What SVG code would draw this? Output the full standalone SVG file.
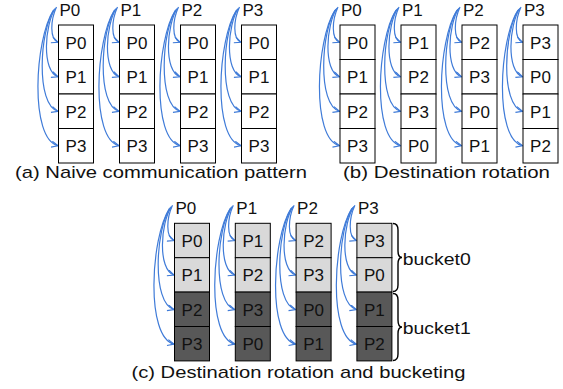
<svg xmlns="http://www.w3.org/2000/svg" xmlns:xlink="http://www.w3.org/1999/xlink" width="563" height="389" viewBox="0 0 563 389">
<style>
text{font-family:"Liberation Sans",Arial,sans-serif;font-size:17px;fill:#111}
.c{text-anchor:middle}
.w{fill:#fff;stroke:#000;stroke-width:1}
.l{fill:#d9d9d9;stroke:#000;stroke-width:1}
.d{fill:#585858;stroke:#000;stroke-width:1}
.a{fill:none;stroke:#3f7bd8;stroke-width:1.2;marker-end:url(#ah)}
.br{fill:none;stroke:#000;stroke-width:1.4}
</style>
<defs>
<marker id="ah" markerUnits="userSpaceOnUse" markerWidth="8" markerHeight="8" refX="7" refY="3.5" orient="auto">
<path d="M0.5,0.5 L7,3.5 L0.5,6.5" fill="none" stroke="#3f7bd8" stroke-width="1.2"/>
</marker>
<g id="fan">
<path class="a" d="M-2,-18 C-8,-5 -9,14 -0.5,17.25"/>
<path class="a" d="M-3,-17 C-14,0 -17,46 -0.5,51.75"/>
<path class="a" d="M-4,-16 C-19,5 -23,80 -0.5,86.25"/>
<path class="a" d="M-5,-15 C-24,15 -29,114 -0.5,120.75"/>
</g>
</defs>

<g id="connectors">
<use xlink:href="#fan" href="#fan" transform="translate(58.5,25)"/>
<use xlink:href="#fan" href="#fan" transform="translate(119.5,25)"/>
<use xlink:href="#fan" href="#fan" transform="translate(180.5,25)"/>
<use xlink:href="#fan" href="#fan" transform="translate(241.5,25)"/>
<use xlink:href="#fan" href="#fan" transform="translate(340,25)"/>
<use xlink:href="#fan" href="#fan" transform="translate(401,25)"/>
<use xlink:href="#fan" href="#fan" transform="translate(462,25)"/>
<use xlink:href="#fan" href="#fan" transform="translate(523,25)"/>
<use xlink:href="#fan" href="#fan" transform="translate(174.5,223.3)"/>
<use xlink:href="#fan" href="#fan" transform="translate(235.3,223.3)"/>
<use xlink:href="#fan" href="#fan" transform="translate(296.1,223.3)"/>
<use xlink:href="#fan" href="#fan" transform="translate(356.9,223.3)"/>
</g>

<!-- (a) -->
<g id="a-p0">
<text x="59.5" y="16.2">P0</text>
<rect class="w" x="58.5" y="25" width="35" height="34.5"/><rect class="w" x="58.5" y="59.5" width="35" height="34.5"/><rect class="w" x="58.5" y="94" width="35" height="34.5"/><rect class="w" x="58.5" y="128.5" width="35" height="34.5"/>
<text class="c" x="76" y="48.5">P0</text><text class="c" x="76" y="83">P1</text><text class="c" x="76" y="117.5">P2</text><text class="c" x="76" y="152">P3</text>
</g>
<g id="a-p1">
<text x="120.5" y="16.2">P1</text>
<rect class="w" x="119.5" y="25" width="35" height="34.5"/><rect class="w" x="119.5" y="59.5" width="35" height="34.5"/><rect class="w" x="119.5" y="94" width="35" height="34.5"/><rect class="w" x="119.5" y="128.5" width="35" height="34.5"/>
<text class="c" x="137" y="48.5">P0</text><text class="c" x="137" y="83">P1</text><text class="c" x="137" y="117.5">P2</text><text class="c" x="137" y="152">P3</text>
</g>
<g id="a-p2">
<text x="181.5" y="16.2">P2</text>
<rect class="w" x="180.5" y="25" width="35" height="34.5"/><rect class="w" x="180.5" y="59.5" width="35" height="34.5"/><rect class="w" x="180.5" y="94" width="35" height="34.5"/><rect class="w" x="180.5" y="128.5" width="35" height="34.5"/>
<text class="c" x="198" y="48.5">P0</text><text class="c" x="198" y="83">P1</text><text class="c" x="198" y="117.5">P2</text><text class="c" x="198" y="152">P3</text>
</g>
<g id="a-p3">
<text x="242.5" y="16.2">P3</text>
<rect class="w" x="241.5" y="25" width="35" height="34.5"/><rect class="w" x="241.5" y="59.5" width="35" height="34.5"/><rect class="w" x="241.5" y="94" width="35" height="34.5"/><rect class="w" x="241.5" y="128.5" width="35" height="34.5"/>
<text class="c" x="259" y="48.5">P0</text><text class="c" x="259" y="83">P1</text><text class="c" x="259" y="117.5">P2</text><text class="c" x="259" y="152">P3</text>
</g>
<text id="cap-a" x="15" y="178" textLength="292" lengthAdjust="spacingAndGlyphs">(a) Naive communication pattern</text>

<!-- (b) -->
<g id="b-p0">
<text x="341" y="16.2">P0</text>
<rect class="w" x="340" y="25" width="35" height="34.5"/><rect class="w" x="340" y="59.5" width="35" height="34.5"/><rect class="w" x="340" y="94" width="35" height="34.5"/><rect class="w" x="340" y="128.5" width="35" height="34.5"/>
<text class="c" x="357.5" y="48.5">P0</text><text class="c" x="357.5" y="83">P1</text><text class="c" x="357.5" y="117.5">P2</text><text class="c" x="357.5" y="152">P3</text>
</g>
<g id="b-p1">
<text x="402" y="16.2">P1</text>
<rect class="w" x="401" y="25" width="35" height="34.5"/><rect class="w" x="401" y="59.5" width="35" height="34.5"/><rect class="w" x="401" y="94" width="35" height="34.5"/><rect class="w" x="401" y="128.5" width="35" height="34.5"/>
<text class="c" x="418.5" y="48.5">P1</text><text class="c" x="418.5" y="83">P2</text><text class="c" x="418.5" y="117.5">P3</text><text class="c" x="418.5" y="152">P0</text>
</g>
<g id="b-p2">
<text x="463" y="16.2">P2</text>
<rect class="w" x="462" y="25" width="35" height="34.5"/><rect class="w" x="462" y="59.5" width="35" height="34.5"/><rect class="w" x="462" y="94" width="35" height="34.5"/><rect class="w" x="462" y="128.5" width="35" height="34.5"/>
<text class="c" x="479.5" y="48.5">P2</text><text class="c" x="479.5" y="83">P3</text><text class="c" x="479.5" y="117.5">P0</text><text class="c" x="479.5" y="152">P1</text>
</g>
<g id="b-p3">
<text x="524" y="16.2">P3</text>
<rect class="w" x="523" y="25" width="35" height="34.5"/><rect class="w" x="523" y="59.5" width="35" height="34.5"/><rect class="w" x="523" y="94" width="35" height="34.5"/><rect class="w" x="523" y="128.5" width="35" height="34.5"/>
<text class="c" x="540.5" y="48.5">P3</text><text class="c" x="540.5" y="83">P0</text><text class="c" x="540.5" y="117.5">P1</text><text class="c" x="540.5" y="152">P2</text>
</g>
<text id="cap-b" x="343" y="178" textLength="207" lengthAdjust="spacingAndGlyphs">(b) Destination rotation</text>

<!-- (c) -->
<g id="c-p0">
<text x="175.5" y="214.3">P0</text>
<rect class="l" x="174.5" y="223.3" width="35" height="34.4"/><rect class="l" x="174.5" y="257.7" width="35" height="34.4"/><rect class="d" x="174.5" y="292.1" width="35" height="34.4"/><rect class="d" x="174.5" y="326.5" width="35" height="34.4"/>
<text class="c" x="192" y="246.8">P0</text><text class="c" x="192" y="281.2">P1</text><text class="c" x="192" y="315.6">P2</text><text class="c" x="192" y="350">P3</text>
</g>
<g id="c-p1">
<text x="236.3" y="214.3">P1</text>
<rect class="l" x="235.3" y="223.3" width="35" height="34.4"/><rect class="l" x="235.3" y="257.7" width="35" height="34.4"/><rect class="d" x="235.3" y="292.1" width="35" height="34.4"/><rect class="d" x="235.3" y="326.5" width="35" height="34.4"/>
<text class="c" x="252.8" y="246.8">P1</text><text class="c" x="252.8" y="281.2">P2</text><text class="c" x="252.8" y="315.6">P3</text><text class="c" x="252.8" y="350">P0</text>
</g>
<g id="c-p2">
<text x="297.1" y="214.3">P2</text>
<rect class="l" x="296.1" y="223.3" width="35" height="34.4"/><rect class="l" x="296.1" y="257.7" width="35" height="34.4"/><rect class="d" x="296.1" y="292.1" width="35" height="34.4"/><rect class="d" x="296.1" y="326.5" width="35" height="34.4"/>
<text class="c" x="313.6" y="246.8">P2</text><text class="c" x="313.6" y="281.2">P3</text><text class="c" x="313.6" y="315.6">P0</text><text class="c" x="313.6" y="350">P1</text>
</g>
<g id="c-p3">
<text x="357.9" y="214.3">P3</text>
<rect class="l" x="356.9" y="223.3" width="35" height="34.4"/><rect class="l" x="356.9" y="257.7" width="35" height="34.4"/><rect class="d" x="356.9" y="292.1" width="35" height="34.4"/><rect class="d" x="356.9" y="326.5" width="35" height="34.4"/>
<text class="c" x="374.4" y="246.8">P3</text><text class="c" x="374.4" y="281.2">P0</text><text class="c" x="374.4" y="315.6">P1</text><text class="c" x="374.4" y="350">P2</text>
</g>
<g id="bucket0">
<path class="br" d="M393,223.5 Q398,223.5 398,230 L398,251 Q398,257.5 402,257.5 Q398,257.5 398,264 L398,285 Q398,291.5 393,291.5"/>
<text x="402.7" y="265" textLength="68" lengthAdjust="spacingAndGlyphs">bucket0</text>
</g>
<g id="bucket1">
<path class="br" d="M393,293.5 Q398,293.5 398,300 L398,320 Q398,327 402,327 Q398,327 398,334 L398,354 Q398,360.5 393,360.5"/>
<text x="402.7" y="334" textLength="68" lengthAdjust="spacingAndGlyphs">bucket1</text>
</g>
<text id="cap-c" x="131.5" y="378" textLength="334" lengthAdjust="spacingAndGlyphs">(c) Destination rotation and bucketing</text>
</svg>
